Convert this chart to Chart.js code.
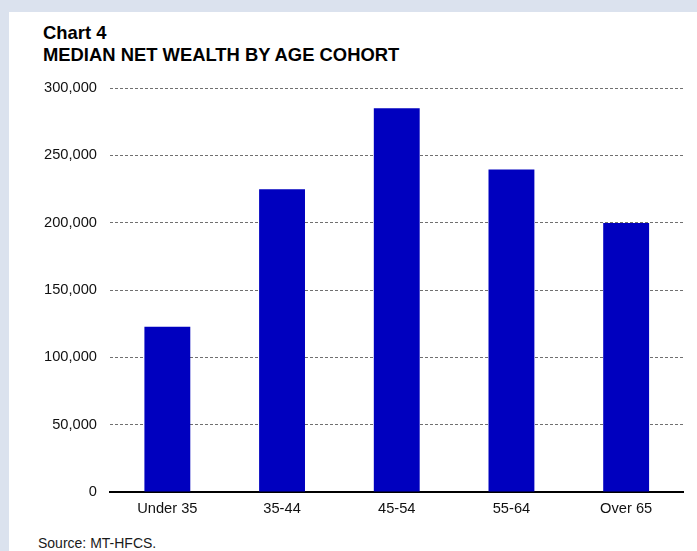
<!DOCTYPE html>
<html>
<head>
<meta charset="utf-8">
<script src="https://cdn.jsdelivr.net/npm/chart.js@4/dist/chart.umd.min.js"></script>
<style>
  html, body { margin: 0; padding: 0; }
  body { width: 697px; height: 551px; background: #dbe2ee; position: relative; overflow: hidden; font-family: "Liberation Sans", Arial, sans-serif; }
  #panel { position: absolute; left: 9px; top: 12px; width: 688px; height: 539px; background: #ffffff; }
  #title { position: absolute; left: 43px; top: 21.5px; font-size: 18.4px; font-weight: bold; line-height: 22.5px; color: #000; white-space: nowrap; }
  #source { position: absolute; left: 38px; top: 535px; font-size: 14px; line-height: 16px; color: #1a1a1a; white-space: nowrap; }
  #wrap { position: absolute; left: 0; top: 0; width: 697px; height: 551px; }
</style>
</head>
<body>
<div id="panel"></div>
<div id="title">Chart 4<br>MEDIAN NET WEALTH BY AGE COHORT</div>
<div id="source">Source: MT-HFCS.</div>
<div id="wrap"><canvas id="c" width="697" height="551"></canvas></div>
<script>
const categories = ['Under 35', '35-44', '45-54', '55-64', 'Over 65'];
const medianNetWealth = [122700, 224800, 285000, 239500, 199700];
const yTicks = [0, 50000, 100000, 150000, 200000, 250000, 300000];

const FONT = '"Liberation Sans", Arial, sans-serif';

new Chart(document.getElementById('c'), {
  type: 'bar',
  data: {
    labels: categories,
    datasets: [{
      data: medianNetWealth,
      backgroundColor: '#0000bf',
      borderWidth: 0,
      barPercentage: 0.4,
      categoryPercentage: 1.0
    }]
  },
  options: {
    responsive: false,
    devicePixelRatio: 1,
    animation: false,
    layout: { padding: { left: 0, right: 13.5, top: 88, bottom: 0 } },
    plugins: { legend: { display: false }, tooltip: { enabled: false }, title: { display: false } },
    scales: {
      x: {
        grid: { display: false, drawTicks: false },
        border: { display: true, color: '#000000', width: 2 },
        ticks: { padding: 8, color: '#111111', font: { family: FONT, size: 14.67 } },
        afterFit: s => { s.height = 59; }
      },
      y: {
        min: 0,
        max: 300000,
        afterBuildTicks: s => { s.ticks = yTicks.map(v => ({ value: v })); },
        ticks: {
          padding: 13,
          color: '#111111',
          font: { family: FONT, size: 14.67 },
          callback: v => Number(v).toLocaleString('en-US')
        },
        grid: {
          drawTicks: false,
          lineWidth: 1,
          color: ctx => (ctx.tick && ctx.tick.value === 0) ? 'rgba(0,0,0,0)' : '#707070'
        },
        border: { display: false, dash: [3, 2] },
        afterFit: s => { s.width = 110; }
      }
    }
  }
});
</script>
</body>
</html>
